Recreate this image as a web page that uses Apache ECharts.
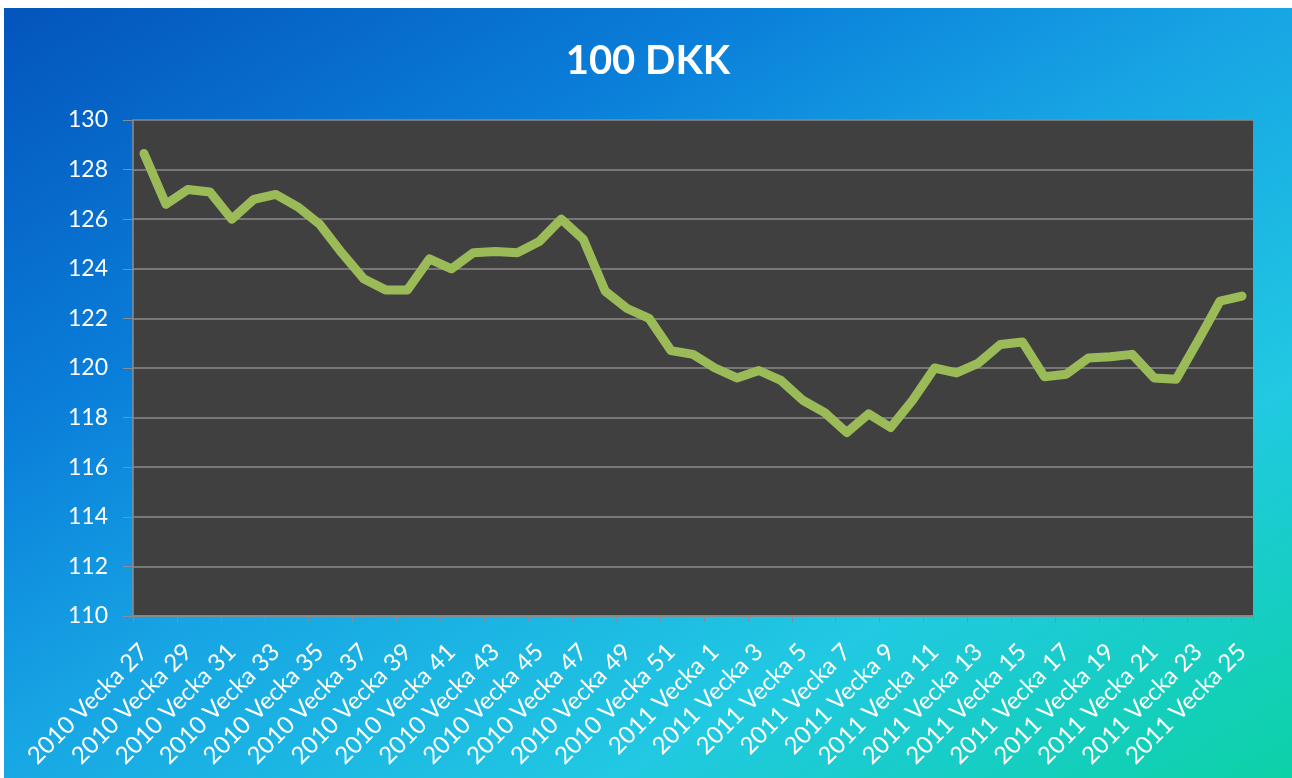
<!DOCTYPE html>
<html>
<head>
<meta charset="utf-8">
<script src="https://cdn.jsdelivr.net/npm/echarts@6/dist/echarts.min.js"></script>
<style>
  html, body { margin: 0; padding: 0; background: #ffffff; width: 1292px; height: 778px; overflow: hidden; }
  #chart {
    position: absolute; left: 4px; top: 8px; width: 1288px; height: 770px;
    background: linear-gradient(150deg, #0454bc 0%, #0a7ed9 28%, #17a4e4 48%, #21c9e2 74%, #0cd2a6 100%);
  }
</style>
</head>
<body>
<div id="chart"></div>
<script>
const titleText = '100 DKK';
const categories = [
  '2010 Vecka 27','2010 Vecka 28','2010 Vecka 29','2010 Vecka 30','2010 Vecka 31','2010 Vecka 32',
  '2010 Vecka 33','2010 Vecka 34','2010 Vecka 35','2010 Vecka 36','2010 Vecka 37','2010 Vecka 38',
  '2010 Vecka 39','2010 Vecka 40','2010 Vecka 41','2010 Vecka 42','2010 Vecka 43','2010 Vecka 44',
  '2010 Vecka 45','2010 Vecka 46','2010 Vecka 47','2010 Vecka 48','2010 Vecka 49','2010 Vecka 50',
  '2010 Vecka 51','2010 Vecka 52',
  '2011 Vecka 1','2011 Vecka 2','2011 Vecka 3','2011 Vecka 4','2011 Vecka 5','2011 Vecka 6',
  '2011 Vecka 7','2011 Vecka 8','2011 Vecka 9','2011 Vecka 10','2011 Vecka 11','2011 Vecka 12',
  '2011 Vecka 13','2011 Vecka 14','2011 Vecka 15','2011 Vecka 16','2011 Vecka 17','2011 Vecka 18',
  '2011 Vecka 19','2011 Vecka 20','2011 Vecka 21','2011 Vecka 22','2011 Vecka 23','2011 Vecka 24',
  '2011 Vecka 25'
];
const values = [
  128.65, 126.6, 127.2, 127.1, 126.0, 126.8, 127.0, 126.5, 125.8, 124.65,
  123.6, 123.15, 123.15, 124.4, 124.0, 124.65, 124.7, 124.65, 125.1, 126.0,
  125.2, 123.1, 122.4, 122.0, 120.7, 120.55, 120.0, 119.6, 119.9, 119.5,
  118.7, 118.2, 117.4, 118.15, 117.6, 118.7, 120.0, 119.8, 120.2, 120.95,
  121.05, 119.65, 119.75, 120.4, 120.45, 120.55, 119.6, 119.55, 121.1, 122.7,
  122.9
];
const yMin = 110, yMax = 130, yStep = 2;

const chart = echarts.init(document.getElementById('chart'), null, { renderer: 'canvas' });
chart.setOption({
  backgroundColor: 'transparent',
  animation: false,
  textStyle: { fontFamily: 'Lato, "Open Sans", sans-serif' },
  title: {
    text: titleText,
    left: 'center',
    top: 28,
    textStyle: { color: '#ffffff', fontSize: 40, fontWeight: 'bold', fontFamily: 'Lato, sans-serif' }
  },
  grid: {
    left: 129, right: 39, top: 112, bottom: 162,
    show: true, backgroundColor: '#404040', borderWidth: 0
  },
  xAxis: {
    type: 'category',
    data: categories,
    boundaryGap: true,
    axisLine: { show: true, lineStyle: { color: '#8c8c8c', width: 1.5 } },
    axisTick: { show: true, length: 6, lineStyle: { color: '#8c8c8c' } },
    axisLabel: {
      interval: 1, rotate: 45, margin: 32,
      color: '#ffffff', fontSize: 24, fontFamily: 'Lato, sans-serif'
    },
    splitLine: { show: false }
  },
  yAxis: {
    type: 'value',
    min: yMin, max: yMax, interval: yStep,
    axisLine: { show: true, lineStyle: { color: '#8c8c8c', width: 1.5 } },
    axisTick: { show: true, length: 10, lineStyle: { color: '#8c8c8c' } },
    axisLabel: { color: '#ffffff', fontSize: 23, margin: 25, fontFamily: 'Lato, sans-serif' },
    splitLine: { show: true, lineStyle: { color: '#8a8a8a', width: 1.5 } }
  },
  series: [{
    type: 'line',
    data: values,
    showSymbol: false,
    symbol: 'none',
    lineStyle: { color: '#9bbb59', width: 9, join: 'round', cap: 'round' },
    itemStyle: { color: '#9bbb59' }
  }]
});
</script>
</body>
</html>
